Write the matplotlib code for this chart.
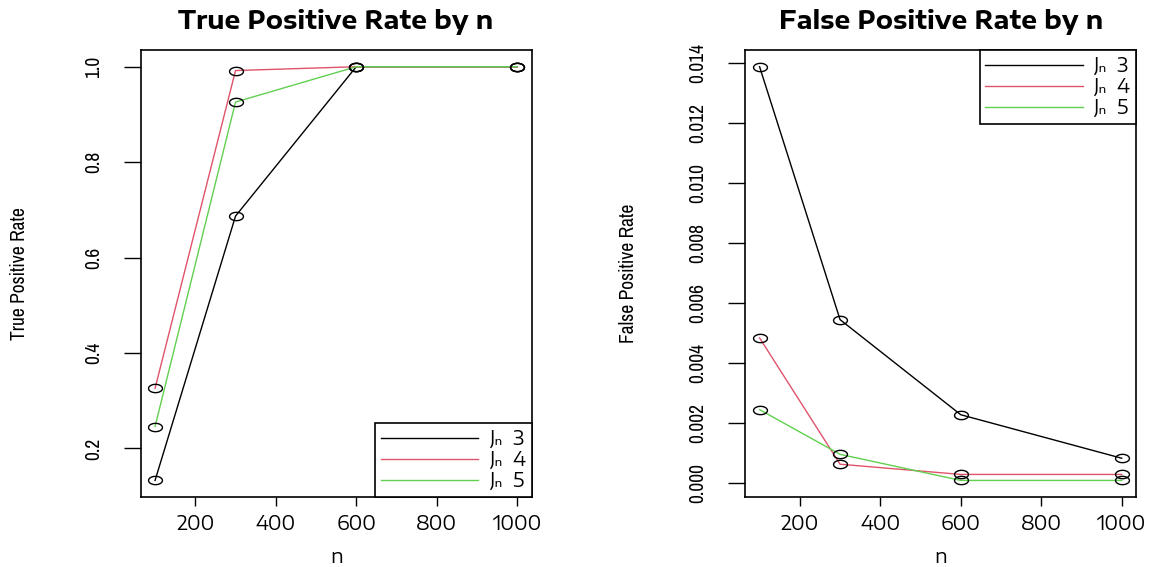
import matplotlib
matplotlib.use("Agg")
import matplotlib.pyplot as plt
import numpy as np
from matplotlib.path import Path
from matplotlib.legend_handler import HandlerLine2D

# the reference is stretched sideways: wide face for flat text, narrow for upright text
WIDE = ['Encode Sans Expanded', 'DejaVu Sans']
NARROW = ['Archivo Narrow', 'Liberation Sans Narrow', 'DejaVu Sans']
plt.rcParams['font.family'] = WIDE

n_values = [100, 300, 600, 1000]
labels = ["J\u2099  3", "J\u2099  4", "J\u2099  5"]
colors = ["black", "#DF536B", "#61D04F"]

tpr_j3 = [0.133, 0.687, 1.0, 1.0]
tpr_j4 = [0.326, 0.992, 1.0, 1.0]
tpr_j5 = [0.246, 0.926, 1.0, 1.0]

fpr_j3 = [0.01386, 0.00543, 0.00226, 0.00081]
fpr_j4 = [0.00482, 0.00061, 0.00027, 0.00027]
fpr_j5 = [0.00243, 0.00094, 0.00007, 0.00007]

xticks = [200, 400, 600, 800, 1000]
tpr_ticks = [0.2, 0.4, 0.6, 0.8, 1.0]
fpr_ticks = [0.0, 0.002, 0.004, 0.006, 0.008, 0.010, 0.012, 0.014]

# flattened circle, like the stretched R output
t = np.linspace(0, 2 * np.pi, 40)
ellipse = Path(np.column_stack([np.cos(t), 0.6 * np.sin(t)]), closed=True)


def draw_panel(ax, series, title, ylabel, yticks, yfmt, legend_loc, ylab_x):
    for ys, col, lab in zip(series, colors, labels):
        ax.plot(n_values, ys, color=col, lw=1.0, label=lab, zorder=2)
        ax.plot(n_values, ys, ls='none', marker=ellipse, ms=10, mfc='none',
                mec='black', mew=1.0, zorder=3)
    allv = np.concatenate(series)
    lo, hi = allv.min(), allv.max()
    pad = (hi - lo) * 0.04
    ax.set_ylim(lo - pad, hi + pad)
    ax.set_xlim(100 - 36, 1000 + 36)
    ax.set_xticks(xticks, labels=[str(v) for v in xticks], family=WIDE, fontsize=14)
    ax.set_yticks(yticks, labels=[yfmt.format(v) for v in yticks], rotation=90,
                  va='center', family=NARROW, fontsize=14)
    ax.tick_params(axis='x', direction='out', length=6.5, width=1, pad=6)
    ax.tick_params(axis='y', direction='out', length=12, width=1, pad=15)
    ax.set_title(title, fontweight='bold', fontsize=18, pad=15, family=WIDE)
    ax.set_xlabel('n', fontsize=14, labelpad=9, family=WIDE)
    ax.set_ylabel(ylabel, fontsize=14, family=NARROW)
    ax.yaxis.set_label_coords(ylab_x, 0.5)
    for s in ax.spines.values():
        s.set_linewidth(1.2)
    leg = ax.legend(loc=legend_loc, fontsize=14, frameon=True, fancybox=False,
                    edgecolor='black', framealpha=1, borderaxespad=0,
                    handlelength=5.0, handletextpad=0.55, borderpad=0.3,
                    labelspacing=0.05,
                    handler_map={l: HandlerLine2D(marker_pad=1.0) for l in ax.get_lines()})
    leg.get_frame().set_linewidth(1.2)


fig = plt.figure(figsize=(11.57, 5.67), dpi=100)
ax1 = fig.add_axes([0.1215, 0.1235, 0.338, 0.788])
ax2 = fig.add_axes([0.644, 0.1235, 0.338, 0.788])

draw_panel(ax1, [tpr_j3, tpr_j4, tpr_j5], 'True Positive Rate by n',
           'True Positive Rate', tpr_ticks, '{:.1f}', 'lower right', -0.285)
draw_panel(ax2, [fpr_j3, fpr_j4, fpr_j5], 'False Positive Rate by n',
           'False Positive Rate', fpr_ticks, '{:.3f}', 'upper right', -0.275)

fig.savefig('out.png', dpi=100)
